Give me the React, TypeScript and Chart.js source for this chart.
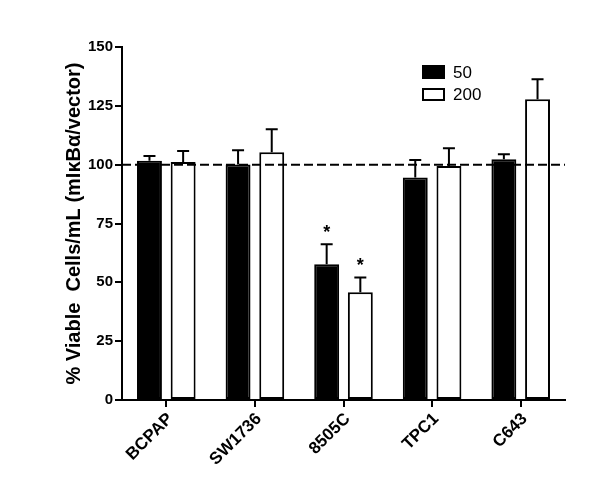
import React, { useEffect, useRef } from "react";
import { Chart, registerables } from "chart.js";

Chart.register(...registerables);

const categories = ["BCPAP", "SW1736", "8505C", "TPC1", "C643"];
const seriesLabels = ["50", "200"];
const dose50 = [101.7, 100.1, 57.7, 94.5, 102.3];
const dose50Err = [2.0, 6.0, 8.5, 7.5, 2.1];
const dose200 = [101.1, 105.3, 45.8, 99.4, 127.8];
const dose200Err = [4.7, 9.8, 6.3, 7.6, 8.5];
const sig50 = ["", "", "*", "", ""];
const sig200 = ["", "", "*", "", ""];
const referenceValue = 100;
const yTicks = [0, 25, 50, 75, 100, 125, 150];

const FONT = "'Liberation Sans', Arial, Helvetica, sans-serif";

const errors = [dose50Err, dose200Err];
const sigs = [sig50, sig200];

const extrasPlugin = {
  id: "extras",
  afterDatasetsDraw(chart: any) {
    const ctx = chart.ctx;
    const y = chart.scales.y;
    const area = chart.chartArea;
    ctx.save();
    chart.data.datasets.forEach((ds: any, di: number) => {
      const meta = chart.getDatasetMeta(di);
      meta.data.forEach((bar: any, i: number) => {
        const v = ds.data[i];
        const top = y.getPixelForValue(v + errors[di][i]);
        ctx.strokeStyle = "#000";
        ctx.lineWidth = 2;
        ctx.beginPath();
        ctx.moveTo(bar.x, bar.y);
        ctx.lineTo(bar.x, top);
        ctx.moveTo(bar.x - 6, top);
        ctx.lineTo(bar.x + 6, top);
        ctx.stroke();
        if (sigs[di][i]) {
          ctx.fillStyle = "#000";
          ctx.font = "bold 18px " + FONT;
          ctx.textAlign = "center";
          ctx.textBaseline = "alphabetic";
          ctx.fillText(sigs[di][i], bar.x, top - 6);
        }
      });
    });
    const ry = y.getPixelForValue(referenceValue);
    ctx.strokeStyle = "#000";
    ctx.lineWidth = 2;
    ctx.setLineDash([9, 4]);
    ctx.beginPath();
    ctx.moveTo(area.left, ry);
    ctx.lineTo(area.right, ry);
    ctx.stroke();
    ctx.setLineDash([]);
    const lx = 422;
    const rows = [72, 94];
    chart.data.datasets.forEach((ds: any, di: number) => {
      const cy = rows[di];
      if (di === 0) {
        ctx.fillStyle = "#000";
        ctx.fillRect(lx, cy - 7, 23, 14);
      } else {
        ctx.fillStyle = "#fff";
        ctx.fillRect(lx, cy - 6, 23, 12);
        ctx.strokeStyle = "#000";
        ctx.lineWidth = 2;
        ctx.strokeRect(lx + 1, cy - 5, 21, 11);
      }
      ctx.fillStyle = "#000";
      ctx.font = "17px " + FONT;
      ctx.textAlign = "left";
      ctx.textBaseline = "middle";
      ctx.fillText(ds.label, lx + 31, cy + 1);
    });
    ctx.restore();
  },
};

export default function App() {
  const ref = useRef<HTMLCanvasElement>(null);
  useEffect(() => {
    document.body.style.margin = "0";
    const chart = new Chart(ref.current!, {
      type: "bar",
      data: {
        labels: categories,
        datasets: [
          {
            label: seriesLabels[0],
            data: dose50,
            backgroundColor: "#000",
            borderColor: "#000",
            borderWidth: 2,
            borderSkipped: false,
            categoryPercentage: 0.76,
            barPercentage: 0.74,
          },
          {
            label: seriesLabels[1],
            data: dose200,
            backgroundColor: "#fff",
            borderColor: "#000",
            borderWidth: 2,
            borderSkipped: false,
            categoryPercentage: 0.76,
            barPercentage: 0.74,
          },
        ],
      },
      options: {
        responsive: false,
        animation: false,
        layout: { padding: { top: 47, right: 35, left: 0, bottom: 0 } },
        plugins: { legend: { display: false }, tooltip: { enabled: false } },
        scales: {
          x: {
            grid: {
              offset: false,
              drawOnChartArea: false,
              drawTicks: true,
              tickLength: 7,
              color: "#000",
              lineWidth: 2,
            },
            border: { display: true, color: "#000", width: 2 },
            ticks: {
              color: "#000",
              minRotation: 45,
              maxRotation: 45,
              padding: 2,
              labelOffset: 4,
              font: { family: FONT, size: 17, weight: "bold" },
            },
            afterFit(scale: any) {
              scale.height = 103;
            },
          },
          y: {
            min: 0,
            max: 150,
            afterBuildTicks(scale: any) {
              scale.ticks = yTicks.map((v) => ({ value: v }));
            },
            grid: {
              drawOnChartArea: false,
              drawTicks: true,
              tickLength: 7,
              color: "#000",
              lineWidth: 2,
            },
            border: { display: true, color: "#000", width: 2 },
            ticks: {
              color: "#000",
              padding: 2,
              font: { family: FONT, size: 15, weight: "bold" },
            },
            title: {
              display: true,
              text: "% Viable  Cells/mL (mIκBα/vector)",
              color: "#000",
              padding: { top: 62, bottom: 0 },
              font: { family: FONT, size: 20, weight: "bold" },
            },
            afterFit(scale: any) {
              scale.width = 122;
            },
          },
        },
      },
      plugins: [extrasPlugin],
    } as any);
    return () => chart.destroy();
  }, []);
  return (
    <div style={{ width: 600, height: 503 }}>
      <canvas ref={ref} width={600} height={503} />
    </div>
  );
}
